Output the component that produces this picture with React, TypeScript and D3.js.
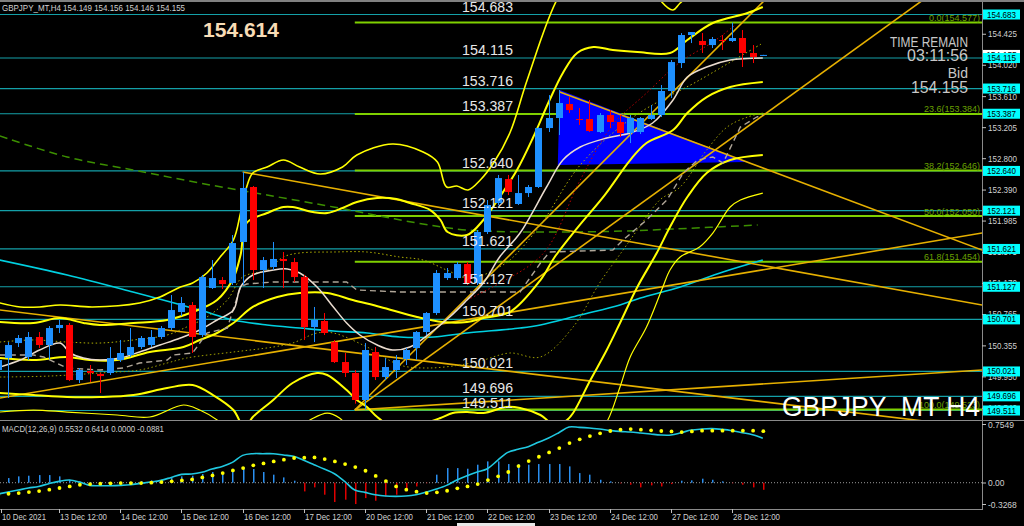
import React from "react";
import * as d3 from "d3";

const FIRST_BAR = -6;
const openP = [150.040,150.196,150.392,150.210,150.471,150.366,150.588,150.628,149.909,150.027,
149.988,150.001,150.170,150.236,150.340,150.366,150.471,150.588,150.797,150.889,
150.497,151.111,151.215,151.176,151.712,152.430,151.346,151.385,151.490,151.450,
151.254,150.601,150.680,150.405,150.144,150.001,149.648,150.275,149.948,150.040,
150.183,150.327,150.536,150.784,151.241,151.241,151.424,151.176,151.842,152.221,
152.534,152.208,152.351,152.430,153.200,153.331,153.514,153.318,153.318,153.148,
153.370,153.279,153.135,153.148,153.318,153.370,153.684,154.049,154.415,154.337,
154.284,154.350,154.337,154.376,154.180,154.149];
const highP = [150.236,150.405,150.497,150.536,150.536,150.614,150.693,150.654,150.066,150.105,
150.001,150.340,150.432,150.588,150.484,150.562,150.614,151.019,150.993,150.928,
151.281,151.476,151.254,151.803,152.626,152.443,151.516,151.712,151.581,151.503,
151.281,150.863,150.784,150.432,150.262,150.040,150.392,150.340,150.196,150.236,
150.327,150.549,150.797,151.346,151.372,151.450,151.450,151.868,152.260,152.587,
152.587,152.587,152.456,153.213,153.631,153.697,153.605,153.462,153.566,153.396,
153.435,153.370,153.370,153.344,153.501,153.762,154.088,154.441,154.454,154.441,
154.389,154.415,154.577,154.480,154.284,154.156];
const lowP = [150.014,149.674,150.340,150.170,150.327,150.183,150.523,149.896,149.870,149.883,
149.739,149.975,150.144,150.210,150.314,150.340,150.445,150.562,150.745,150.262,
150.471,151.098,151.098,151.150,151.150,151.215,151.111,151.346,151.111,151.189,
150.432,150.405,150.497,150.131,149.948,149.600,149.523,149.909,149.909,149.935,
150.105,150.170,150.497,150.758,151.215,151.215,151.150,151.150,151.816,152.195,
152.325,152.195,152.299,152.417,153.148,153.109,153.396,153.240,153.148,153.135,
153.200,153.083,153.004,153.122,153.305,153.344,153.592,153.984,154.310,154.180,
154.245,154.219,154.323,153.997,154.049,154.146];
const closeP = [150.170,150.366,150.458,150.471,150.366,150.588,150.628,149.909,150.040,150.001,
149.961,150.196,150.262,150.340,150.458,150.471,150.588,150.823,150.915,150.471,
151.254,151.241,151.163,151.698,152.417,151.346,151.476,151.490,151.463,151.254,
150.601,150.693,150.523,150.144,150.001,149.648,150.301,149.948,150.079,150.170,
150.301,150.536,150.784,151.307,151.307,151.424,151.176,151.842,152.195,152.547,
152.365,152.351,152.430,153.200,153.331,153.527,153.435,153.305,153.161,153.370,
153.279,153.135,153.331,153.331,153.370,153.684,154.062,154.415,154.454,154.284,
154.363,154.337,154.376,154.180,154.128,154.155];

// indicator lines: [bar, price]
const bandUpperOuter = [[-5.8,150.915],[-3.8,150.863],[-1.9,150.863],[0.1,150.889],[3.3,150.863],[7.9,150.915],[9.9,150.993],[11.9,151.124],[13.1,151.176],[14.5,151.307],[15.8,151.516],[17.1,151.738],[17.8,152.090],[18.4,152.430],[19.0,152.613],[20.4,152.691],[22.0,152.782],[23.6,152.691],[25.6,152.600],[27.8,152.691],[29.2,152.848],[32.7,152.991],[35.7,152.887],[37.1,152.756],[38.0,152.430],[39.0,152.443],[40.1,152.391],[41.3,152.521],[42.6,152.743],[44.2,153.135],[45.9,153.827],[48.8,154.872],[52.0,155.525],[56.9,155.394],[59.1,154.846],[60.2,154.741],[60.9,154.833],[64.8,155.264],[69.0,155.394]];
const bandUpper = [[-5.8,150.667],[-2.5,150.654],[0.1,150.719],[2.4,150.654],[4.0,150.628],[7.3,150.654],[10.6,150.693],[13.1,150.797],[15.5,150.954],[17.1,151.241],[17.8,151.542],[18.4,151.960],[20.4,152.090],[22.0,152.169],[22.9,152.169],[24.9,152.103],[26.3,152.090],[27.8,152.156],[29.2,152.234],[31.2,152.286],[33.1,152.273],[34.4,152.221],[36.4,152.129],[37.4,151.999],[38.1,151.842],[40.0,151.803],[41.6,151.999],[43.2,152.299],[44.9,152.652],[46.5,153.083],[48.1,153.566],[49.4,153.919],[50.8,154.180],[52.4,154.258],[54.3,154.219],[56.7,154.193],[59.9,154.180],[61.6,154.350],[64.1,154.572],[67.5,154.702],[69.0,154.781]];
const bandLower = [[-5.8,150.196],[-2.5,150.170],[0.8,150.210],[3.0,150.170],[5.7,150.170],[8.9,150.275],[12.2,150.340],[13.8,150.432],[15.5,150.523],[17.1,150.654],[19.0,150.863],[21.4,150.993],[23.6,151.045],[26.3,151.045],[28.8,150.954],[31.5,150.863],[35.1,150.732],[37.6,150.667],[40.0,150.667],[41.6,150.719],[44.2,150.797],[47.2,151.215],[48.6,151.516],[50.8,151.894],[53.5,152.325],[56.0,152.782],[57.6,153.004],[60.2,153.174],[61.6,153.396],[63.5,153.605],[65.8,153.736],[69.0,153.801]];
const bandLower2 = [[-5.8,149.739],[-2.5,149.713],[0.8,149.687],[4.0,149.687],[7.3,149.713],[10.6,149.805],[13.1,149.844],[15.1,149.713],[17.1,149.517],[18.2,149.282],[19.0,149.426],[21.0,149.648],[22.9,149.870],[25.3,150.001],[26.3,149.975],[28.2,149.779],[29.2,149.648],[30.2,149.557],[31.2,149.426],[32.9,149.282],[35.9,149.348],[37.4,149.413],[38.6,149.478],[40.0,149.491],[41.6,149.478],[43.9,149.557],[45.2,149.543],[47.2,149.452],[48.6,149.322],[49.8,149.387],[50.4,149.478],[52.1,149.909],[53.7,150.301],[55.0,150.654],[56.7,151.124],[58.6,151.568],[59.9,151.907],[61.6,152.299],[63.5,152.613],[65.8,152.782],[69.0,152.848]];
const bandLower3 = [[-5.8,149.491],[-2.5,149.517],[0.8,149.491],[5.7,149.452],[8.9,149.426],[12.2,149.583],[13.8,149.517],[15.5,149.387],[17.7,149.126],[21.7,149.126],[24.6,149.387],[26.3,149.478],[27.5,149.413],[29.5,149.126],[33.4,148.864],[43.2,148.734],[51.1,148.864],[53.0,149.256],[53.8,149.387],[55.0,149.818],[56.0,150.210],[57.6,150.601],[59.2,151.124],[59.9,151.346],[60.9,151.516],[62.8,151.646],[64.1,151.829],[65.8,152.169],[66.8,152.260],[69.0,152.351]];
const dottedFast = [[-5.8,150.405],[-2.5,150.432],[0.8,150.405],[4.0,150.392],[7.3,150.432],[10.6,150.497],[12.5,150.601],[14.5,150.732],[16.5,150.954],[18.0,151.254],[20.4,151.346],[22.0,151.516],[23.6,151.568],[26.9,151.581],[30.2,151.581],[33.4,151.516],[35.7,151.476],[38.0,151.346],[40.0,151.241],[41.6,151.281],[42.6,151.346],[44.2,151.476],[47.2,151.934],[51.1,152.717],[56.3,153.344],[62.8,153.827],[69.0,154.310]];
const dottedSlow = [[-5.8,149.948],[-0.9,149.961],[4.0,150.001],[7.9,150.040],[10.6,150.131],[12.5,150.196],[17.1,150.275],[21.0,150.340],[22.9,150.392],[25.3,150.523],[26.9,150.523],[30.2,150.340],[33.4,150.105],[36.1,150.066],[39.3,150.105],[41.6,150.170],[44.2,150.262],[47.2,150.210],[50.4,150.601],[53.0,151.176],[55.3,151.607],[56.9,151.907],[58.9,152.260],[60.9,152.430],[63.5,152.913],[65.5,153.213],[67.5,153.344],[69.0,153.396]];
const whiteMA = [[-5.8,150.079],[-3.8,150.170],[-1.9,150.301],[0.1,150.392],[1.1,150.262],[2.4,150.196],[4.0,150.170],[6.0,150.196],[7.9,150.275],[9.9,150.366],[11.9,150.458],[13.8,150.562],[15.5,150.693],[17.1,150.823],[17.8,151.124],[19.0,151.281],[21.0,151.346],[22.4,151.359],[23.6,151.307],[25.3,151.124],[26.9,150.863],[28.2,150.654],[29.5,150.497],[31.2,150.366],[32.7,150.301],[34.4,150.340],[36.4,150.523],[38.3,150.732],[40.0,150.954],[41.6,151.176],[43.2,151.516],[45.2,151.829],[47.8,152.430],[49.4,152.782],[51.1,152.952],[53.7,153.070],[56.0,153.135],[58.2,153.266],[60.2,153.566],[61.6,153.866],[63.5,153.997],[65.8,154.088],[69.0,154.115]];
const grayDashed = [[-5.8,150.236],[-2.5,150.236],[-1.5,150.210],[0.8,150.066],[4.0,150.040],[6.3,150.066],[7.9,150.131],[10.6,150.170],[11.2,150.236],[13.1,150.262],[14.5,150.523],[16.5,150.588],[17.8,151.124],[18.4,151.163],[21.0,151.189],[28.2,151.189],[29.2,151.085],[33.4,151.059],[45.2,151.059],[47.2,151.437],[48.1,151.581],[54.3,151.607],[55.3,151.738],[57.6,151.999],[59.6,152.260],[61.2,152.613],[62.6,152.782],[64.1,152.822],[65.1,152.743],[66.8,153.213],[68.4,153.344],[69.0,153.370]];
const redDotted = [[40.0,150.954],[46.2,151.411],[48.1,151.672],[51.1,152.521],[54.3,153.240],[57.6,153.657],[60.9,154.062],[64.1,154.323],[66.3,154.546]];
const cyanMA = [[-5.8,151.476],[0.8,151.281],[7.25,151.059],[13.8,150.823],[17.1,150.693],[20.4,150.628],[23.6,150.588],[26.9,150.549],[30.2,150.523],[33.4,150.471],[36.7,150.471],[40.0,150.523],[45.2,150.588],[47.2,150.628],[51.1,150.758],[55.0,150.889],[57.0,150.980],[60.9,151.124],[65.1,151.320],[69.0,151.476]];
const greenDashed = [[-5.8,153.096],[0.8,152.822],[7.25,152.652],[13.8,152.482],[20.4,152.325],[26.9,152.169],[29.5,152.103],[35.1,151.960],[40.0,151.868],[48.1,151.842],[55.3,151.855],[60.2,151.881],[68.5,151.934]];

// trendlines: [bar1, price1, bar2, price2]
const trendA = [18.0, 152.626, 90.5, 150.889];
const trendB = [49.1, 153.670, 90.5, 151.607];
const trendC = [-5.8, 149.674, 90.5, 151.829];
const trendD = [29.0, 149.517, 90.5, 150.040];
const trendE = [-5.8, 150.823, 90.5, 149.282];
const trendG1 = [29.0, 149.517, 69.2, 154.872];
const trendG2 = [29.0, 149.517, 84.7, 154.872];
const triangle = [[49.1, 153.697], [48.9, 152.717], [67.45, 152.756]];

const levels = [154.683, 154.115, 153.716, 153.387, 152.640, 152.121, 151.621, 151.127, 150.701, 150.021, 149.696, 149.511];
const fibRatios = [0.0, 23.6, 38.2, 50.0, 61.8, 100.0];
const fibPrices = [154.577, 153.384, 152.646, 152.050, 151.454, 149.523];
const fibStartBar = 29.0;
const priceTicks = [154.425, 154.020, 153.610, 153.205, 152.800, 152.390, 151.985, 151.575, 151.170, 150.765, 150.355, 149.950, 149.540];
const bidPrice = 154.155;

const dateLabels = ["10 Dec 2021", "13 Dec 12:00", "14 Dec 12:00", "15 Dec 12:00", "16 Dec 12:00", "17 Dec 12:00", "20 Dec 12:00", "21 Dec 12:00", "22 Dec 12:00", "23 Dec 12:00", "24 Dec 12:00", "27 Dec 12:00", "28 Dec 12:00"];
const dateBars = [-5.8, 0, 6, 12, 18, 24, 30, 36, 42, 48, 54, 60, 66];

const macdMain = [-0.141,-0.116,-0.091,-0.066,-0.046,-0.012,0.017,0.033,0.008,-0.033,
-0.037,-0.037,-0.033,-0.025,-0.008,0.008,0.029,0.066,0.104,0.108,
0.129,0.170,0.203,0.253,0.340,0.361,0.361,0.361,0.344,0.328,
0.278,0.224,0.170,0.112,0.017,-0.091,-0.120,-0.149,-0.166,-0.170,
-0.166,-0.149,-0.116,-0.079,-0.033,0.033,0.087,0.133,0.174,0.278,
0.377,0.415,0.448,0.502,0.556,0.622,0.692,0.688,0.680,0.667,
0.651,0.638,0.630,0.618,0.605,0.593,0.593,0.622,0.655,0.667,
0.672,0.663,0.647,0.622,0.597,0.553];
const macdSignal = [-0.149,-0.137,-0.129,-0.116,-0.104,-0.087,-0.066,-0.046,-0.025,-0.017,
-0.012,-0.008,-0.004,-0.004,-0.004,0.000,0.008,0.017,0.029,0.041,
0.066,0.091,0.120,0.153,0.182,0.216,0.240,0.265,0.286,0.307,
0.311,0.315,0.294,0.265,0.232,0.195,0.149,0.085,0.020,-0.046,
-0.087,-0.112,-0.129,-0.120,-0.100,-0.070,-0.046,-0.017,0.033,0.079,
0.133,0.207,0.269,0.323,0.377,0.431,0.493,0.539,0.580,0.614,
0.643,0.659,0.667,0.659,0.651,0.643,0.638,0.630,0.638,0.647,
0.647,0.647,0.647,0.647,0.647,0.641];
const macdHist = [0.050,0.058,0.079,0.087,0.095,0.095,0.079,0.037,0.017,0.008,
0.004,0.008,0.012,0.012,0.021,0.029,0.037,0.058,0.079,0.087,
0.108,0.133,0.108,0.162,0.191,0.170,0.133,0.100,0.066,0.025,
-0.108,-0.058,-0.149,-0.240,-0.211,-0.265,-0.191,-0.224,-0.170,-0.149,
-0.087,-0.046,-0.004,0.100,0.182,0.182,0.174,0.224,0.265,0.265,
0.232,0.232,0.224,0.232,0.232,0.232,0.203,0.120,0.100,0.037,
0.017,-0.008,-0.025,-0.058,-0.033,-0.046,-0.017,0.025,0.029,0.050,
0.037,0.017,-0.004,-0.025,-0.058,-0.088];
const macdAxisLabels = ["0.7549", "0.00", "-0.3268"];
const macdAxisY = [424.5, 483, 504.5];

const FONT = "'Liberation Sans', Arial, sans-serif";
const BULL = "#1e90ff";
const BEAR = "#ff0000";
const LEVEL = "#14a0a8";
const FIB = "#7fd000";
const TREND = "#e6b000";
const BAND = "#ffff00";

export default function App() {
  const x = d3.scaleLinear().domain([0, 69]).range([59, 762.8]);
  const y = d3.scaleLinear().domain([149.511, 154.683]).range([410.5, 14.5]);
  const ym = d3.scaleLinear().domain([-0.3268, 0.7549]).range([509, 422]);

  const bars = d3.range(openP.length).map((i) => ({
    k: i + FIRST_BAR, o: openP[i], h: highP[i], l: lowP[i], c: closeP[i],
    m: macdMain[i], s: macdSignal[i], hist: macdHist[i],
  }));

  const smooth = d3.line().x((d) => x(d[0])).y((d) => y(d[1])).curve(d3.curveCatmullRom.alpha(0.5));
  const straight = d3.line().x((d) => x(d[0])).y((d) => y(d[1]));
  const macdLine = d3.line().x((d) => x(d.k)).y((d) => ym(d.m)).curve(d3.curveCatmullRom.alpha(0.5));

  const trends = [trendA, trendB, trendC, trendD, trendE, trendG1, trendG2];
  const xRight = 982;

  return (
    <div style={{ position: "fixed", left: 0, top: 0 }}>
      <svg width={1024} height={526} style={{ display: "block", background: "#000" }} fontFamily={FONT}>
        <defs>
          <clipPath id="mainClip"><rect x={0} y={2} width={982} height={418} /></clipPath>
          <clipPath id="macdClip"><rect x={0} y={421} width={982} height={88} /></clipPath>
        </defs>
        <rect x={0} y={0} width={1024} height={526} fill="#000" />

        <g clipPath="url(#mainClip)">
          {levels.map((p) => (
            <line key={"lv" + p} x1={0} x2={xRight} y1={y(p)} y2={y(p)} stroke={LEVEL} strokeWidth={1.2} />
          ))}
          {fibPrices.map((p) => (
            <line key={"fb" + p} x1={x(fibStartBar)} x2={xRight} y1={y(p)} y2={y(p)} stroke={FIB} strokeWidth={2} />
          ))}
          <path d={d3.line()(triangle.map((d) => [x(d[0]), y(d[1])])) + "Z"} fill="#0000ff" />
          <path d={smooth(greenDashed)} fill="none" stroke="#3c8f00" strokeWidth={1.5} strokeDasharray="8,5" />
          <path d={smooth(cyanMA)} fill="none" stroke="#00d0e0" strokeWidth={1.6} />
          {trends.map((t, i) => (
            <line key={"tr" + i} x1={x(t[0])} y1={y(t[1])} x2={x(t[2])} y2={y(t[3])} stroke={TREND} strokeWidth={1.6} />
          ))}
          <path d={smooth(bandUpperOuter)} fill="none" stroke={BAND} strokeWidth={1.6} />
          <path d={smooth(bandUpper)} fill="none" stroke={BAND} strokeWidth={2} />
          <path d={smooth(bandLower)} fill="none" stroke={BAND} strokeWidth={2} />
          <path d={smooth(bandLower2)} fill="none" stroke={BAND} strokeWidth={2} />
          <path d={smooth(bandLower3)} fill="none" stroke={BAND} strokeWidth={1.2} />
          <path d={smooth(dottedFast)} fill="none" stroke="#b0b000" strokeWidth={1} strokeDasharray="1.5,2.5" />
          <path d={smooth(dottedSlow)} fill="none" stroke="#a0a000" strokeWidth={1} strokeDasharray="1.5,2.5" />
          <path d={straight(grayDashed)} fill="none" stroke="#b0a698" strokeWidth={1.4} strokeDasharray="6,4" />
          <path d={smooth(redDotted)} fill="none" stroke="#c00000" strokeWidth={1} strokeDasharray="1.5,2.5" />
          <path d={smooth(whiteMA)} fill="none" stroke="#eadccf" strokeWidth={1.5} />

          {bars.map((b) => {
            const cx = Math.round(x(b.k));
            const col = b.c >= b.o ? BULL : BEAR;
            const top = y(Math.max(b.o, b.c));
            const bot = y(Math.min(b.o, b.c));
            return (
              <g key={"c" + b.k}>
                <line x1={cx + 0.5} x2={cx + 0.5} y1={y(b.h)} y2={y(b.l)} stroke={col} strokeWidth={1} />
                <rect x={cx - 3} y={top} width={7} height={Math.max(1, bot - top)} fill={col} />
              </g>
            );
          })}

          {levels.map((p) => (
            <text key={"lt" + p} x={513} y={y(p) - 3} textAnchor="end" fill="#e8e8e8" fontSize={14.5} textLength={51} lengthAdjust="spacingAndGlyphs">{p.toFixed(3)}</text>
          ))}
          {fibPrices.map((p, i) => (
            <text key={"ft" + p} x={980} y={y(p) - 1.5} textAnchor="end" fill="#6aa000" fontSize={9}>{`${fibRatios[i].toFixed(1)}(${p.toFixed(3)})`}</text>
          ))}
          <text x={203} y={37} fill="#f8dcb6" fontSize={20} fontWeight="bold" textLength={76} lengthAdjust="spacingAndGlyphs">154.614</text>
          <text x={968} y={47} textAnchor="end" fill="#c8c8c8" fontSize={14} textLength={78} lengthAdjust="spacingAndGlyphs">TIME REMAIN</text>
          <text x={968} y={61} textAnchor="end" fill="#c8c8c8" fontSize={17} textLength={61} lengthAdjust="spacingAndGlyphs">03:11:56</text>
          <text x={968} y={78} textAnchor="end" fill="#c8c8c8" fontSize={14}>Bid</text>
          <text x={968} y={93} textAnchor="end" fill="#c8c8c8" fontSize={17} textLength={57} lengthAdjust="spacingAndGlyphs">154.155</text>
          <text x={980} y={416} textAnchor="end" fill="#ffffff" fontSize={27} textLength={198} lengthAdjust="spacingAndGlyphs">GBPJPY_MT H4</text>
        </g>
        <rect x={0} y={0} width={1024} height={2} fill="#808080" />

        <text x={2} y={11} fill="#d0d0d0" fontSize={9} textLength={183} lengthAdjust="spacingAndGlyphs">GBPJPY_MT,H4  154.149 154.156 154.146 154.155</text>

        {/* frame */}
        <line x1={0} x2={1024} y1={420.5} y2={420.5} stroke="#8a8a8a" strokeWidth={1} />
        <line x1={0} x2={982} y1={509.5} y2={509.5} stroke="#8a8a8a" strokeWidth={1} />
        <line x1={982.5} x2={982.5} y1={2} y2={510} stroke="#8a8a8a" strokeWidth={1} />

        {/* price axis */}
        {priceTicks.map((p) => (
          <g key={"pt" + p}>
            <line x1={982} x2={986} y1={y(p)} y2={y(p)} stroke="#c0c0c0" />
            <text x={988} y={y(p) + 3} fill="#d0d0d0" fontSize={8.5} textLength={29} lengthAdjust="spacingAndGlyphs">{p.toFixed(3)}</text>
          </g>
        ))}
        <rect x={983} y={y(bidPrice) - 5} width={37} height={10} fill="#ffffff" />
        <text x={1001.5} y={y(bidPrice) + 3} textAnchor="middle" fill="#000" fontSize={8.5}>{bidPrice.toFixed(3)}</text>
        {levels.map((p) => (
          <g key={"lb" + p}>
            <rect x={983} y={y(p) - 5} width={37} height={10} fill="#00ffff" />
            <text x={1001.5} y={y(p) + 3} textAnchor="middle" fill="#000" fontSize={8.5} textLength={29} lengthAdjust="spacingAndGlyphs">{p.toFixed(3)}</text>
          </g>
        ))}

        {/* MACD panel */}
        <g clipPath="url(#macdClip)">
          <line x1={0} x2={982} y1={ym(0)} y2={ym(0)} stroke="#9a9a9a" strokeDasharray="1,2" />
          {bars.map((b) => {
            const cx = Math.round(x(b.k));
            const y0 = ym(0), y1 = ym(b.hist);
            return (
              <rect key={"h" + b.k} x={cx} y={Math.min(y0, y1)} width={1.5} height={Math.max(0.5, Math.abs(y1 - y0))} fill={b.hist >= 0 ? "#2a8ff0" : "#e00000"} />
            );
          })}
          <path d={macdLine(bars)} fill="none" stroke="#20c8e0" strokeWidth={1.6} />
          {bars.map((b) => (
            <circle key={"s" + b.k} cx={x(b.k) + 0.5} cy={ym(b.s)} r={1.9} fill="#ffff00" />
          ))}
        </g>
        <text x={2} y={432} fill="#d0d0d0" fontSize={9} textLength={162} lengthAdjust="spacingAndGlyphs">MACD(12,26,9) 0.5532 0.6414 0.0000 -0.0881</text>
        {macdAxisLabels.map((t, i) => (
          <g key={"ma" + t}>
            <line x1={982} x2={986} y1={macdAxisY[i]} y2={macdAxisY[i]} stroke="#c0c0c0" />
            <text x={988} y={macdAxisY[i] + 3} fill="#d0d0d0" fontSize={8.5}>{t}</text>
          </g>
        ))}

        {/* time axis */}
        {dateLabels.map((t, i) => {
          const tx = Math.max(1, Math.round(x(dateBars[i])));
          return (
            <g key={"d" + t}>
              <line x1={tx + 0.5} x2={tx + 0.5} y1={509} y2={513} stroke="#c0c0c0" />
              <text x={tx + 1} y={520} fill="#d0d0d0" fontSize={8.5} textLength={t.length === 11 ? 44 : 47} lengthAdjust="spacingAndGlyphs">{t}</text>
            </g>
          );
        })}
        <rect x={457} y={523} width={78} height={3} fill="#e8e8e8" />
      </svg>
    </div>
  );
}
